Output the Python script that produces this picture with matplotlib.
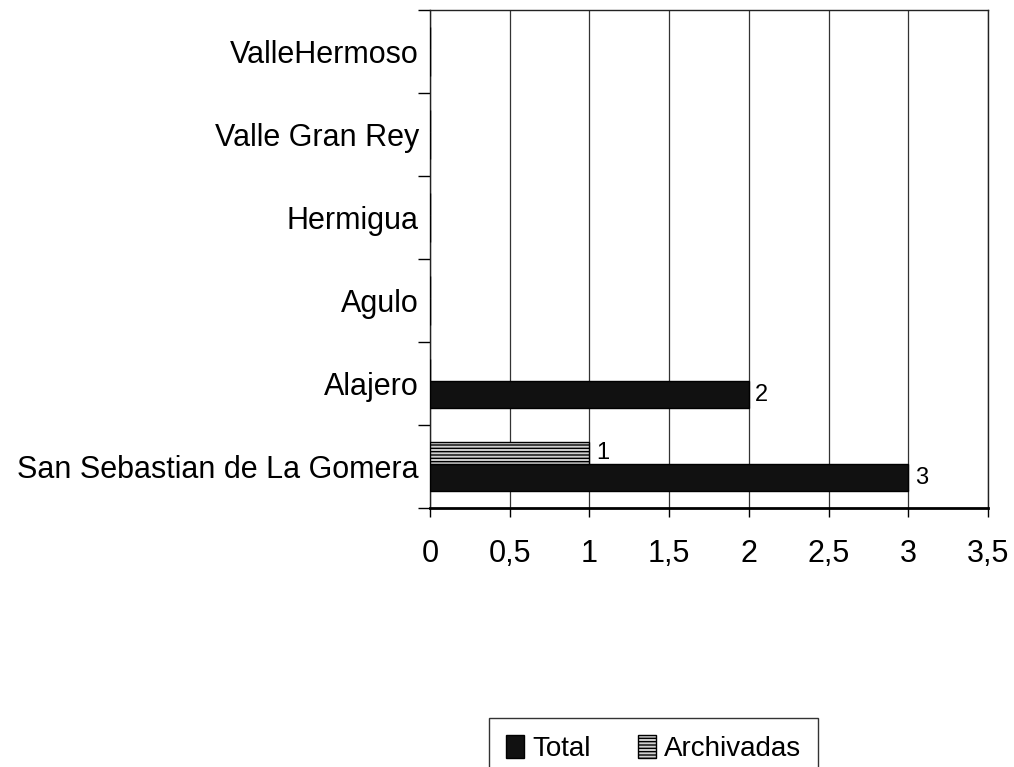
import matplotlib
matplotlib.use('Agg')
from matplotlib import pyplot as plt
from matplotlib.patches import Patch
import numpy as np

plt.rcParams['font.family'] = ['Liberation Sans', 'DejaVu Sans']

# municipios, de abajo hacia arriba
municipios = ['San Sebastian de La Gomera', 'Alajero', 'Agulo',
              'Hermigua', 'Valle Gran Rey', 'ValleHermoso']
total = [3, 2, 0, 0, 0, 0]
archivadas = [1, 0, 0, 0, 0, 0]
xticks = [0, 0.5, 1, 1.5, 2, 2.5, 3, 3.5]
xtick_labels = ['0', '0,5', '1', '1,5', '2', '2,5', '3', '3,5']

fig = plt.figure(figsize=(10.14, 7.67), dpi=100)
ax = fig.add_axes([430/1014, 1-508/767, 558/1014, 498/767])

y = np.arange(len(municipios))
b_total = ax.barh(y - 0.30, total, height=0.325, align='edge',
                  color='#111111', edgecolor='black', linewidth=1, zorder=3)
b_arch = ax.barh(y + 0.025, archivadas, height=0.265, align='edge',
                 color='#d0d0d0', edgecolor='black', hatch='-----',
                 linewidth=1, zorder=3)

# etiquetas de valor solo en barras no nulas
for bars, vals in ((b_total, total), (b_arch, archivadas)):
    for rect, v in zip(bars, vals):
        if v:
            ax.text(v + 0.04, rect.get_y() + rect.get_height()/2, str(v),
                    va='center', ha='left', fontsize=17)

ax.set_xlim(0, 3.5)
ax.set_ylim(-0.5, len(municipios) - 0.5)

ax.set_xticks(xticks)
ax.set_xticklabels(xtick_labels, fontsize=22)
ax.tick_params(axis='x', direction='out', length=6.5, width=1, pad=16)

ax.set_yticks(y)
ax.set_yticklabels(municipios, fontsize=22)
ax.set_yticks(np.arange(-0.5, len(municipios), 1), minor=True)
ax.tick_params(axis='y', which='major', length=0, pad=8)
ax.tick_params(axis='y', which='minor', direction='out', length=8.5, width=1)

ax.grid(True, axis='x', color='#333333', linewidth=0.9, zorder=0)
ax.set_axisbelow(True)
for s in ['top', 'right', 'left']:
    ax.spines[s].set_linewidth(1)
    ax.spines[s].set_color('#222222')
ax.spines['bottom'].set_linewidth(2)

handles = [Patch(facecolor='#111111', edgecolor='black', label='Total'),
           Patch(facecolor='#d0d0d0', edgecolor='black', hatch='-----',
                 label='Archivadas')]
leg = fig.legend(handles=handles, loc='upper center',
                 bbox_to_anchor=(653.5/1014, 1-718/767), ncol=2, fontsize=20,
                 frameon=True, fancybox=False, edgecolor='black',
                 handlelength=0.65, handleheight=0.9, handletextpad=0.3,
                 columnspacing=1.7, borderpad=0.6, borderaxespad=0)
leg.get_frame().set_linewidth(1)

plt.savefig('out.png', dpi=100)
